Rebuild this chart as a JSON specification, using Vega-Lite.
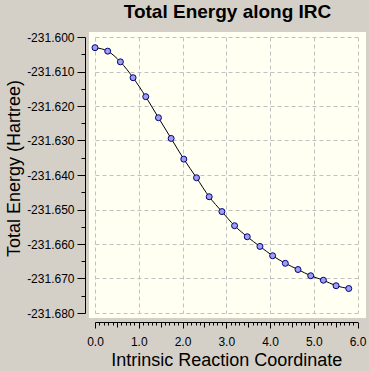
{
  "$schema": "https://vega.github.io/schema/vega-lite/v6.json",
  "width": 277,
  "height": 286,
  "autosize": {"type": "none"},
  "padding": {"left": 89, "top": 32, "right": 3, "bottom": 53},
  "background": "#d4d0c8",
  "title": {"text": "Total Energy along IRC", "fontSize": 19, "fontWeight": "bold", "color": "black", "anchor": "middle", "frame": "group", "offset": 9, "font": "Liberation Sans"},
  "config": {"font": "Liberation Sans", "view": {"fill": "#fffff2", "stroke": null}},
  "data": {"values": [
    {"irc": 0.00, "energy": -231.6031},
    {"irc": 0.29, "energy": -231.6041},
    {"irc": 0.58, "energy": -231.6072},
    {"irc": 0.87, "energy": -231.6118},
    {"irc": 1.16, "energy": -231.6173},
    {"irc": 1.45, "energy": -231.6234},
    {"irc": 1.74, "energy": -231.6294},
    {"irc": 2.03, "energy": -231.6354},
    {"irc": 2.32, "energy": -231.6408},
    {"irc": 2.61, "energy": -231.6463},
    {"irc": 2.90, "energy": -231.6506},
    {"irc": 3.19, "energy": -231.6547},
    {"irc": 3.48, "energy": -231.6579},
    {"irc": 3.77, "energy": -231.6607},
    {"irc": 4.06, "energy": -231.6634},
    {"irc": 4.35, "energy": -231.6656},
    {"irc": 4.64, "energy": -231.6674},
    {"irc": 4.93, "energy": -231.6692},
    {"irc": 5.22, "energy": -231.6705},
    {"irc": 5.51, "energy": -231.6721},
    {"irc": 5.80, "energy": -231.6729}
  ]},
  "encoding": {
    "x": {
      "field": "irc", "type": "quantitative",
      "scale": {"domain": [0, 6], "range": [6, 268.5], "nice": false, "zero": false},
      "axis": {
        "orient": "bottom", "offset": 4,
        "values": [0,0.1,0.2,0.3,0.4,0.5,0.6,0.7,0.8,0.9,1,1.1,1.2,1.3,1.4,1.5,1.6,1.7,1.8,1.9,2,2.1,2.2,2.3,2.4,2.5,2.6,2.7,2.8,2.9,3,3.1,3.2,3.3,3.4,3.5,3.6,3.7,3.8,3.9,4,4.1,4.2,4.3,4.4,4.5,4.6,4.7,4.8,4.9,5,5.1,5.2,5.3,5.4,5.5,5.6,5.7,5.8,5.9,6],
        "domainColor": "black", "domainWidth": 1,
        "tickColor": "black", "tickWidth": 1,
        "tickSize": {"condition": [
          {"test": "abs(datum.value - round(datum.value)) < 0.001", "value": 6},
          {"test": "abs(datum.value*2 - round(datum.value*2)) < 0.001", "value": 5}
        ], "value": 3},
        "grid": true, "gridColor": "#c0c0c0", "gridDash": [4, 3], "gridWidth": 1,
        "gridOpacity": {"condition": {"test": "abs(datum.value - round(datum.value)) < 0.001", "value": 1}, "value": 0},
        "labelExpr": "abs(datum.value - round(datum.value)) < 0.001 ? format(datum.value, '.1f') : ''",
        "labelOverlap": false, "labelFlush": false,
        "labelFontSize": 12, "labelColor": "black", "labelPadding": 8,
        "title": "Intrinsic Reaction Coordinate", "titleFontSize": 18, "titleFontWeight": "normal", "titleColor": "black",
        "titleY": 43, "titleBaseline": "alphabetic"
      }
    },
    "y": {
      "field": "energy", "type": "quantitative",
      "scale": {"domain": [-231.68, -231.6], "range": [281, 5], "nice": false, "zero": false},
      "axis": {
        "orient": "left", "offset": 4,
        "values": [-231.68,-231.675,-231.67,-231.665,-231.66,-231.655,-231.65,-231.645,-231.64,-231.635,-231.63,-231.625,-231.62,-231.615,-231.61,-231.605,-231.6],
        "domainColor": "black", "domainWidth": 1,
        "tickColor": "black", "tickWidth": 1,
        "tickSize": {"condition": {"test": "abs(round(datum.value*1000)) % 10 === 0", "value": 8}, "value": 4},
        "grid": true, "gridColor": "#c0c0c0", "gridDash": [4, 3], "gridWidth": 1,
        "gridOpacity": {"condition": {"test": "abs(round(datum.value*1000)) % 10 === 0", "value": 1}, "value": 0},
        "labelExpr": "abs(round(datum.value*1000)) % 10 === 0 ? '-' + format(abs(datum.value), '.3f') : ''",
        "labelOverlap": false,
        "labelFontSize": 12, "labelColor": "black", "labelPadding": 3,
        "title": "Total Energy (Hartree)", "titleFontSize": 18, "titleFontWeight": "normal", "titleColor": "black",
        "titleX": -66, "titleY": 136, "titleAngle": -90, "titleAlign": "center", "titleBaseline": "alphabetic"
      }
    }
  },
  "layer": [
    {"mark": {"type": "line", "color": "black", "strokeWidth": 1, "interpolate": "monotone"}},
    {"mark": {"type": "circle", "fill": "#9f9fef", "stroke": "#000080", "strokeWidth": 1, "size": 36, "opacity": 1}}
  ]
}
